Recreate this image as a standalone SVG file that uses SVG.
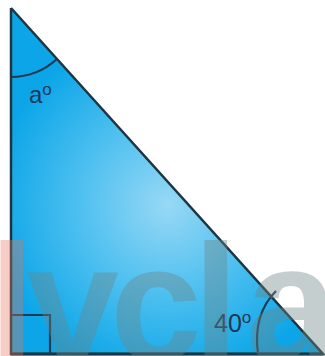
<svg xmlns="http://www.w3.org/2000/svg" width="325" height="356" viewBox="0 0 325 356">
  <style>
    .edge { fill: none; stroke: #1e3640; stroke-width: 2.5; stroke-linejoin: miter; stroke-linecap: butt; }
    .mark { fill: none; stroke: #1e3a52; stroke-width: 2.2; }
    .lbl { font-family: "Liberation Sans", Arial, sans-serif; fill: #1d3658; }
    .wm { font-family: "Liberation Sans", Arial, sans-serif; font-weight: bold; font-size: 165px; }
  </style>
  <defs>
    <radialGradient id="fillg" gradientUnits="userSpaceOnUse" cx="168" cy="205" r="175">
      <stop offset="0" stop-color="#98d8f5"/>
      <stop offset="0.5" stop-color="#4fc0f0"/>
      <stop offset="1" stop-color="#0ca6e8"/>
    </radialGradient>
  </defs>
  <rect width="325" height="356" fill="#ffffff"/>
  <g id="triangle">
    <polygon points="11,8 11,354 323,354" fill="url(#fillg)"/>
  </g>
  <g id="connectors">
    <polyline class="edge" points="11,8 11,354 323,354 11,8"/>
    <line x1="11" y1="354" x2="323" y2="354" stroke="#1e3640" stroke-width="3"/>
  </g>
  <g id="angle-a">
    <path class="mark" d="M11,77 A69,69 0 0 0 57,59"/>
    <text class="lbl" x="29" y="103" font-size="24">a<tspan font-size="17" dy="-8">o</tspan></text>
  </g>
  <g id="angle-40">
    <path class="mark" d="M276,291 C262,305 254,325 258,354"/>
    <text class="lbl" x="214" y="332" font-size="25">40<tspan font-size="17" dy="-9">o</tspan></text>
  </g>
  <g id="right-angle">
    <polyline class="mark" points="11,315 50,315 50,354"/>
  </g>
  <g id="watermark">
    <text class="wm" y="360"><tspan x="-11" fill="#e8735a" fill-opacity="0.35">l</tspan><tspan x="27" fill="#6e8584" fill-opacity="0.4">v</tspan><tspan x="110" fill="#6e8584" fill-opacity="0.4">c</tspan><tspan x="193" fill="#6e8584" fill-opacity="0.4">l</tspan><tspan x="246" fill="#6e8584" fill-opacity="0.4">a</tspan></text>
  </g>
</svg>
